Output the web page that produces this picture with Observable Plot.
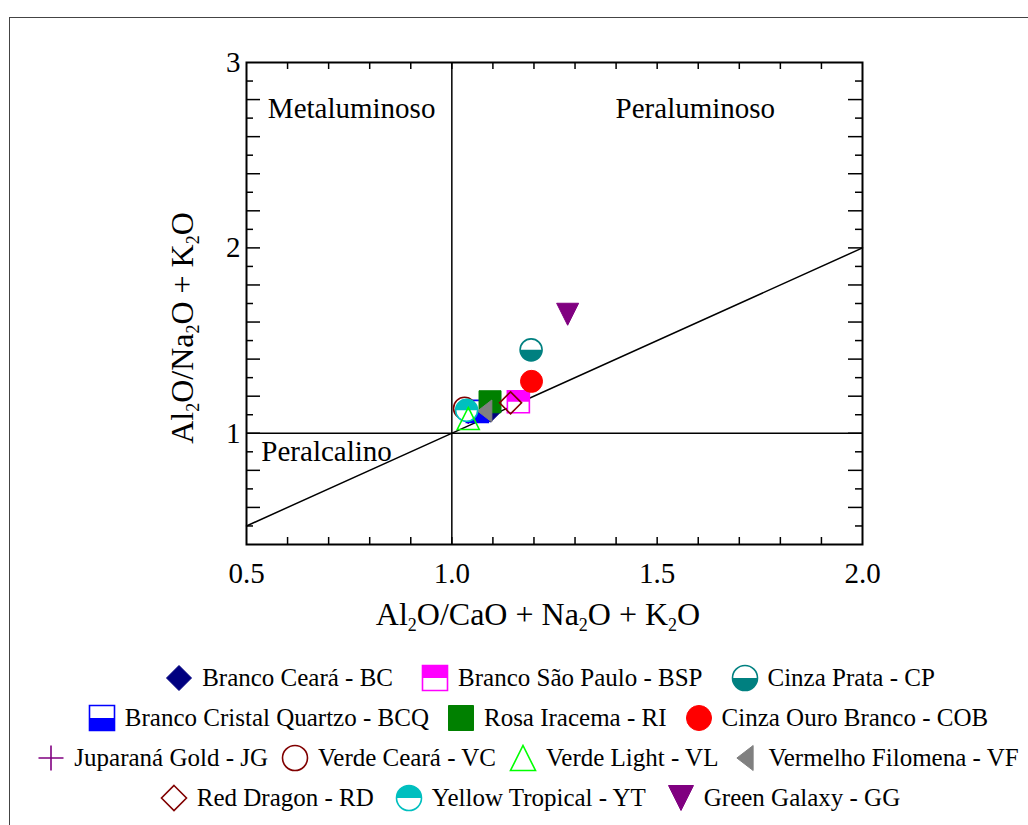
<!DOCTYPE html>
<html><head><meta charset="utf-8">
<script src="https://cdn.jsdelivr.net/npm/d3@7"></script>
<script src="https://cdn.jsdelivr.net/npm/@observablehq/plot@0.6"></script>
<style>
body{margin:0;background:#fff;font-family:"Liberation Serif","Times New Roman",serif;}
#wrap{position:relative;width:1028px;height:825px;overflow:hidden;background:#fff;}
#border{position:absolute;left:9px;top:17px;width:1040px;height:840px;border:1.5px solid #444;}
#chart{position:absolute;left:0;top:0;}
#legend{position:absolute;left:0;top:658px;width:1028px;}
.row{display:flex;justify-content:center;align-items:center;height:40px;font-size:25px;color:#000;white-space:nowrap;}
.item{display:flex;align-items:center;}
.item svg{margin-right:9px;flex:none;}
</style></head>
<body><div id="wrap"><div id="border"></div><div id="chart"></div><div id="legend"></div></div>
<script>
// ---------- data ----------
const codes = ["BC","BSP","CP","BCQ","RI","COB","JG","VC","VL","VF","RD","YT","GG"];
const names = ["Branco Ceará","Branco São Paulo","Cinza Prata","Branco Cristal Quartzo","Rosa Iracema","Cinza Ouro Branco","Juparaná Gold","Verde Ceará","Verde Light","Vermelho Filomena","Red Dragon","Yellow Tropical","Green Galaxy"];
// Al2O/(CaO + Na2O + K2O)
const acnk = [1.094, 1.162, 1.193, 1.062, 1.093, 1.194, 1.040, 1.031, 1.040, 1.080, 1.143, 1.036, 1.282];
// Al2O/(Na2O + K2O)
const ank  = [1.119, 1.170, 1.450, 1.118, 1.170, 1.280, 1.110, 1.135, 1.080, 1.120, 1.164, 1.124, 1.642];
const xTickLabels = [0.5, 1.0, 1.5, 2.0];
const yTickLabels = [1, 2, 3];
const dividerX = [1];
const dividerY = [1];
const diagonal = [{x: 0.5, y: 0.5}, {x: 2.0, y: 2.0}];
const regionNames = ["Metaluminoso", "Peraluminoso", "Peralcalino"];
const regionX = [0.756, 1.593, 0.695];
const regionY = [2.752, 2.752, 0.898];

// ---------- styles ----------
const FONT = '"Liberation Serif","Times New Roman",serif';
const markerStyle = {
  BC:  {shape:"diamond",      color:"#000080", fill:"full"},
  BSP: {shape:"square",       color:"#ff00ff", fill:"top"},
  CP:  {shape:"circle",       color:"#008080", fill:"bottom"},
  BCQ: {shape:"square",       color:"#0000ff", fill:"bottom"},
  RI:  {shape:"square",       color:"#008000", fill:"full"},
  COB: {shape:"circle",       color:"#ff0000", fill:"full"},
  JG:  {shape:"cross",        color:"#800080", fill:"none"},
  VC:  {shape:"circle",       color:"#800000", fill:"none"},
  VL:  {shape:"triangleUp",   color:"#00ff00", fill:"none"},
  VF:  {shape:"triangleLeft", color:"#808080", fill:"full"},
  RD:  {shape:"diamond",      color:"#800000", fill:"none"},
  YT:  {shape:"circle",       color:"#00bfbf", fill:"top"},
  GG:  {shape:"triangleDown", color:"#800080", fill:"full"}
};
const drawOrder = ["JG","BC","BSP","CP","BCQ","RI","COB","VC","VF","RD","YT","VL","GG"];
const legendRows = [["BC","BSP","CP"],["BCQ","RI","COB"],["JG","VC","VL","VF"],["RD","YT","GG"]];
const legendGap = [28, 18, 13, 21];
const legendShift = [36, 24, 14, 16];

const S = size => Math.sqrt(size / Math.PI);
const symbols = {
  circle: {draw(c, size){const s=S(size); c.moveTo(s,0); c.arc(0,0,s,0,2*Math.PI); c.closePath();}},
  circle_top: {draw(c, size){const s=S(size); c.moveTo(-s,0); c.arc(0,0,s,Math.PI,2*Math.PI); c.closePath();}},
  circle_bottom: {draw(c, size){const s=S(size); c.moveTo(s,0); c.arc(0,0,s,0,Math.PI); c.closePath();}},
  square: {draw(c, size){const s=S(size); c.rect(-s,-s,2*s,2*s);}},
  square_top: {draw(c, size){const s=S(size); c.rect(-s,-s,2*s,s);}},
  square_bottom: {draw(c, size){const s=S(size); c.rect(-s,0,2*s,s);}},
  diamond: {draw(c, size){const s=S(size); c.moveTo(0,-s); c.lineTo(s,0); c.lineTo(0,s); c.lineTo(-s,0); c.closePath();}},
  triangleUp: {draw(c, size){const s=S(size); c.moveTo(0,-s); c.lineTo(s,s); c.lineTo(-s,s); c.closePath();}},
  triangleDown: {draw(c, size){const s=S(size); c.moveTo(-s,-s); c.lineTo(s,-s); c.lineTo(0,s); c.closePath();}},
  triangleLeft: {draw(c, size){const s=S(size); c.moveTo(-0.65*s,0); c.lineTo(0.65*s,-s); c.lineTo(0.65*s,s); c.closePath();}},
  cross: {draw(c, size){const s=S(size); c.moveTo(-s,0); c.lineTo(s,0); c.moveTo(0,-s); c.lineTo(0,s);}}
};

const points = codes.map((c, i) => ({code: c, name: names[i], x: acnk[i], y: ank[i]}));

const W = 1028, H = 650, mL = 246, mR = 166, mT = 62, mB = 106;
const fw = W - mL - mR, fh = H - mT - mB;
const R = 11;

function seriesMarks(code) {
  const st = markerStyle[code];
  const d = points.filter(p => p.code === code);
  const base = {x: "x", y: "y", r: R};
  if (st.fill === "full") return [Plot.dot(d, {...base, symbol: symbols[st.shape], fill: st.color, stroke: st.color, strokeWidth: 1})];
  if (st.fill === "none") return [Plot.dot(d, {...base, symbol: symbols[st.shape], fill: "none", stroke: st.color, strokeWidth: 1.6})];
  return [
    Plot.dot(d, {...base, symbol: symbols[st.shape], fill: "white", stroke: "none"}),
    Plot.dot(d, {...base, symbol: symbols[st.shape + "_" + st.fill], fill: st.color, stroke: "none"}),
    Plot.dot(d, {...base, symbol: symbols[st.shape], fill: "none", stroke: st.color, strokeWidth: 1.6})
  ];
}

const xMinor = d3.range(6, 20).map(i => i / 10);
const yMinor = d3.range(5, 30).map(i => i / 10);
const yLong = yMinor.filter((v, i) => i % 2 === 1);
const yShort = yMinor.filter((v, i) => i % 2 === 0);
const regions = regionNames.map((t, i) => ({text: t, x: regionX[i], y: regionY[i]}));

const chart = Plot.plot({
  width: W, height: H, marginLeft: mL, marginRight: mR, marginTop: mT, marginBottom: mB,
  x: {domain: [0.5, 2.0]},
  y: {domain: [0.4, 3.0]},
  style: {fontFamily: FONT, fontSize: "29px", color: "#000", background: "transparent", overflow: "visible"},
  marks: [
    Plot.ruleX(xMinor, {x: d => d, insetTop: fh - 7, stroke: "#000", strokeWidth: 1.5}),
    Plot.ruleX(xMinor, {x: d => d, insetBottom: fh - 7, stroke: "#000", strokeWidth: 1.5}),
    Plot.ruleY(yShort, {y: d => d, insetRight: fw - 7, stroke: "#000", strokeWidth: 1.5}),
    Plot.ruleY(yLong, {y: d => d, insetRight: fw - 14, stroke: "#000", strokeWidth: 1.5}),
    Plot.ruleY(yShort, {y: d => d, insetLeft: fw - 7, stroke: "#000", strokeWidth: 1.5}),
    Plot.ruleY(yLong, {y: d => d, insetLeft: fw - 14, stroke: "#000", strokeWidth: 1.5}),
    Plot.ruleX(dividerX, {x: d => d, stroke: "#000", strokeWidth: 1.5}),
    Plot.ruleY(dividerY, {y: d => d, stroke: "#000", strokeWidth: 1.5}),
    Plot.line(diagonal, {x: "x", y: "y", stroke: "#000", strokeWidth: 1.5}),
    Plot.frame({stroke: "#000", strokeWidth: 2}),
    Plot.axisX({ticks: xTickLabels, tickFormat: d => d.toFixed(1), tickSize: 0, tickPadding: 18, label: null, fontSize: 29, fontFamily: FONT}),
    Plot.axisY({ticks: yTickLabels, tickFormat: d => String(d), tickSize: 0, tickPadding: 6, label: null, fontSize: 29, fontFamily: FONT}),
    Plot.text(regions, {x: "x", y: "y", text: "text", fontSize: 29, fontFamily: FONT, fill: "#000"}),
    ...drawOrder.flatMap(seriesMarks)
  ]
});
document.getElementById("chart").appendChild(chart);

// axis titles with subscripts
function addTitle(svg, parts, x, y, rot) {
  const t = d3.select(svg).append("text")
    .attr("transform", `translate(${x},${y}) rotate(${rot})`)
    .attr("text-anchor", "middle")
    .attr("font-family", FONT)
    .attr("font-size", 32).attr("fill", "#000");
  let shifted = false;
  parts.forEach(([s, sub]) => {
    const sp = t.append("tspan").text(s);
    if (sub) { sp.attr("font-size", 18).attr("dy", 6); shifted = true; }
    else if (shifted) { sp.attr("dy", -6); shifted = false; }
  });
}
const xTitle = [["Al",0],["2",1],["O/CaO + Na",0],["2",1],["O + K",0],["2",1],["O",0]];
const yTitle = [["Al",0],["2",1],["O/Na",0],["2",1],["O + K",0],["2",1],["O",0]];
addTitle(chart, xTitle, 538, 625, 0);
addTitle(chart, yTitle, 193, 328, -90);

// legend
const legend = d3.select("#legend");
legendRows.forEach((row, ri) => {
  const r = legend.append("div").attr("class", "row")
    .style("gap", legendGap[ri] + "px")
    .style("transform", `translateX(${legendShift[ri]}px)`);
  row.forEach(code => {
    const st = markerStyle[code];
    const idx = codes.indexOf(code);
    const it = r.append("div").attr("class", "item");
    const sv = it.append("svg").attr("width", 28).attr("height", 28).attr("viewBox", "-14 -14 28 28");
    const size = Math.PI * 12.5 * 12.5;
    const path = t => d3.symbol(symbols[t], size)();
    if (st.fill === "full") sv.append("path").attr("d", path(st.shape)).attr("fill", st.color).attr("stroke", st.color);
    else if (st.fill === "none") sv.append("path").attr("d", path(st.shape)).attr("fill", "none").attr("stroke", st.color).attr("stroke-width", 1.6);
    else {
      sv.append("path").attr("d", path(st.shape)).attr("fill", "white");
      sv.append("path").attr("d", path(st.shape + "_" + st.fill)).attr("fill", st.color);
      sv.append("path").attr("d", path(st.shape)).attr("fill", "none").attr("stroke", st.color).attr("stroke-width", 1.6);
    }
    it.append("span").text(`${names[idx]} - ${code}`);
  });
});
</script>
</body></html>
